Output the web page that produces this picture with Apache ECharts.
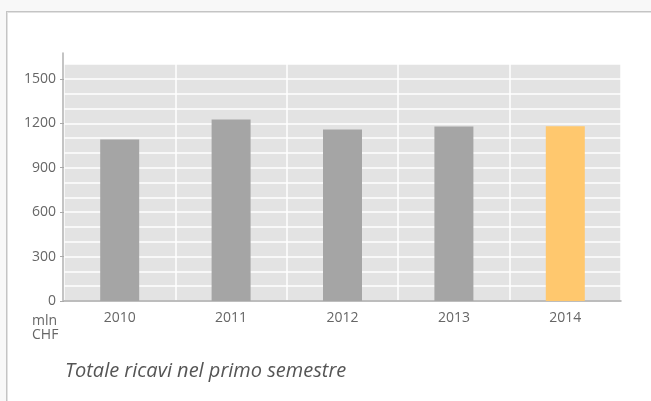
<!DOCTYPE html>
<html>
<head>
<meta charset="utf-8">
<script src="https://cdn.jsdelivr.net/npm/echarts@6/dist/echarts.min.js"></script>
<style>
  html, body { margin:0; padding:0; background:#f8f8f8; }
  #panel { position:absolute; left:6px; top:11px; width:645px; height:390px; background:#fff;
           border-left:1px solid #c4c4c4; border-top:1px solid #c4c4c4; box-shadow: inset 1px 1px 0 #e2e2e2; }
  #chart { position:absolute; left:0; top:0; width:651px; height:401px; }
</style>
</head>
<body>
<div id="panel"></div>
<div id="chart"></div>
<script>
const categories = ['2010', '2011', '2012', '2013', '2014'];
const revenues = [1091, 1225, 1158, 1178, 1179];
const highlightIndex = 4;
const yTickLabels = [0, 300, 600, 900, 1200, 1500];
const unitLabel = 'mln\nCHF';
const caption = 'Totale ricavi nel primo semestre';

const FONT = '"Open Sans", "Noto Sans", sans-serif';
const chart = echarts.init(document.getElementById('chart'), null, { renderer: 'canvas' });
chart.setOption({
  animation: false,
  backgroundColor: 'transparent',
  title: [
    { text: unitLabel, left: 27, top: 309,
      textStyle: { fontFamily: FONT, fontSize: 14, fontWeight: 'normal', color: '#666', lineHeight: 14 } },
    { text: caption, left: 60, top: 356,
      textStyle: { fontFamily: FONT, fontSize: 20, fontStyle: 'italic', fontWeight: 'normal', color: '#555' } }
  ],
  grid: [
    { left: 64, right: 30, top: 64, bottom: 100, show: true, backgroundColor: '#e3e3e3', borderWidth: 0 },
    { left: 63, width: 1, top: 53, bottom: 100, show: false }
  ],
  xAxis: [
    { type: 'category', gridIndex: 0, data: categories,
      axisLine: { show: true, lineStyle: { color: '#a8a8a8', width: 1.5 } },
      axisTick: { show: false },
      axisLabel: { color: '#666', fontFamily: FONT, fontSize: 14, margin: 10 },
      splitLine: { show: true, lineStyle: { color: '#ffffff', width: 1.5 } } },
    { type: 'value', gridIndex: 1, show: false }
  ],
  yAxis: [
    { type: 'value', gridIndex: 0, min: 0, max: 1600, interval: 100,
      axisLine: { show: false }, axisTick: { show: false }, axisLabel: { show: false },
      splitLine: { show: true, lineStyle: { color: '#ffffff', width: 1.5 } } },
    { type: 'value', gridIndex: 0, min: 0, max: 1600, position: 'left',
      axisLine: { show: false },
      axisTick: { show: true, length: 4, customValues: yTickLabels, lineStyle: { color: '#aaa' } },
      axisLabel: { show: true, customValues: yTickLabels, formatter: v => String(v),
                   color: '#666', fontFamily: FONT, fontSize: 14, margin: 8 },
      splitLine: { show: false } },
    { type: 'value', gridIndex: 1, min: 0, max: 1, position: 'left',
      axisLine: { show: true, lineStyle: { color: '#b0b0b0', width: 1.5 } },
      axisTick: { show: false }, axisLabel: { show: false }, splitLine: { show: false } }
  ],
  series: [{
    type: 'bar', xAxisIndex: 0, yAxisIndex: 0,
    barWidth: '35%',
    data: revenues.map((v, i) => ({ value: v, itemStyle: { color: i === highlightIndex ? '#ffc86e' : '#a5a5a5' } })),
    z: 3
  }]
});
</script>
</body>
</html>
